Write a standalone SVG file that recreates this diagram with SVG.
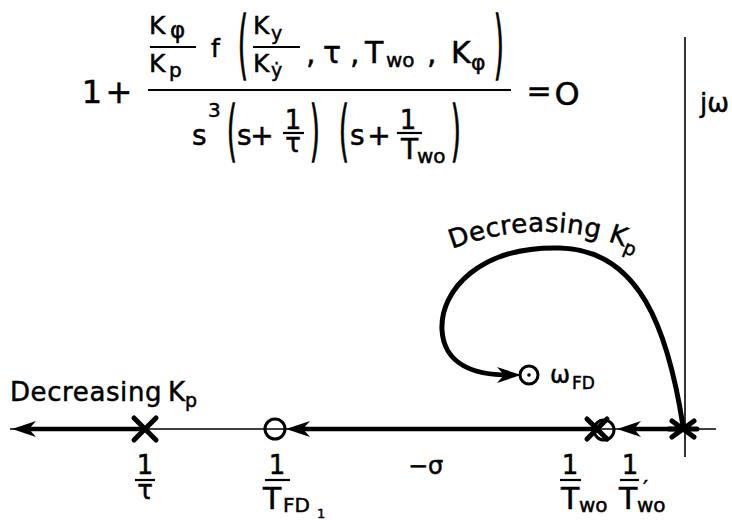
<svg xmlns="http://www.w3.org/2000/svg" width="732" height="520" viewBox="0 0 732 520">
<style>
text{font-family:"DejaVu Sans","Liberation Sans",sans-serif;fill:#000;stroke:#000;stroke-width:0.5}
.m{font-size:32px}
.n{font-size:30px}
.f{font-size:25px}
.d{font-size:28px}
.s{font-size:19px}
.lbl{font-size:26px}
.rule{stroke:#000;stroke-width:2.2;fill:none}
.thin{stroke:#000;stroke-width:1.6;fill:none}
.thick{stroke:#000;stroke-width:4.5;fill:none}
.locus{stroke:#000;stroke-width:5;fill:none;stroke-linecap:round}
.cross{stroke:#000;stroke-width:5;stroke-linecap:round;fill:none}
.zero{fill:none;stroke:#000;stroke-width:3}
</style>
<defs>
<marker id="ah" viewBox="-26 -10 28 20" refX="-12" refY="0" markerWidth="28" markerHeight="20" markerUnits="userSpaceOnUse" orient="auto-start-reverse"><path d="M0,0 L-24,-8 L-17,0 L-24,8 Z" fill="#000"/></marker>
<path id="arc" d="M452,249 Q555,210 650,258"/>
</defs>
<rect width="732" height="520" fill="#fff"/>

<g id="equation">
<text class="m" x="92" y="103" text-anchor="middle">1</text>
<text class="m" x="119" y="103" text-anchor="middle">+</text>
<text class="f" x="149" y="34">K</text><text font-size="23" x="170" y="38">φ</text>
<path class="rule" d="M150,47 H196"/>
<text class="f" x="149" y="72">K</text><text font-size="20" x="169" y="77">p</text>
<text class="f" x="211" y="57">f</text>
<text class="f" transform="translate(238,70) scale(1,3)">(</text>
<text class="f" x="253" y="34">K</text><text class="s" x="271" y="40">y</text>
<path class="rule" d="M253,47 H300"/>
<text class="f" x="253" y="72">K</text><text class="s" x="271" y="77">ẏ</text>
<text class="n" x="306" y="63">,</text>
<text class="n" x="323" y="63">τ</text>
<text class="n" x="350" y="63">,</text>
<text class="n" x="365" y="63">T</text><text font-size="20" x="386" y="67">wo</text>
<text class="n" x="427" y="63">,</text>
<text class="n" x="451" y="63">K</text><text font-size="22" x="471" y="70">φ</text>
<text class="f" transform="translate(494,70) scale(1,3)">)</text>
<path class="rule" d="M148,90 H511" stroke-width="2.5"/>
<text class="n" x="539" y="101" text-anchor="middle">=</text>
<text class="m" x="567" y="105" text-anchor="middle">O</text>
<text class="d" x="192" y="145">s</text>
<text font-size="20" x="208" y="117">3</text>
<text class="f" transform="translate(227,153.3) scale(1,2.65)">(</text>
<text class="d" x="237" y="145">s</text>
<text class="d" x="262" y="145" text-anchor="middle">+</text>
<text font-size="26" x="293" y="129" text-anchor="middle">1</text>
<path class="rule" d="M283,133 H304"/>
<text font-size="26" x="293" y="152" text-anchor="middle">τ</text>
<text class="f" transform="translate(310,153.3) scale(1,2.65)">)</text>
<text class="f" transform="translate(339,153.3) scale(1,2.65)">(</text>
<text class="d" x="350" y="145">s</text>
<text class="d" x="379" y="145" text-anchor="middle">+</text>
<text font-size="26" x="408" y="129" text-anchor="middle">1</text>
<path class="rule" d="M397,133 H422"/>
<text class="d" x="401" y="159">T</text><text font-size="20" x="417" y="163">wo</text>
<text class="f" transform="translate(451,153.3) scale(1,2.65)">)</text>
</g>

<g id="axes">
<line class="thin" x1="10" y1="429" x2="716" y2="429"/>
<line class="thin" x1="685" y1="37" x2="685" y2="457"/>
<text class="lbl" x="700" y="112">jω</text>
<text font-size="24" x="408" y="474">−σ</text>
</g>

<g id="connectors">
<path class="thick" d="M24,429 H145" marker-start="url(#ah)"/>
<path class="thick" d="M298,429 H597" marker-start="url(#ah)"/>
<path class="thick" d="M629,429 H683" marker-start="url(#ah)"/>
<path class="locus" d="M683,426 C668,330 640,250 560,248 C480,246 440,290 442,330 C444,365 475,375 509,375" marker-end="url(#ah)"/>
<text class="lbl" x="10" y="401" letter-spacing="0.6">Decreasing <tspan x="168" letter-spacing="0">K</tspan><tspan font-size="19" dy="6">p</tspan></text>
<text class="lbl" letter-spacing="0.4"><textPath href="#arc">Decreasing K<tspan font-size="19" dy="6">p</tspan></textPath></text>
</g>

<g id="pole-tau">
<path class="cross" d="M134,418 L156,440 M156,418 L134,440"/>
<text font-size="26" x="145" y="474" text-anchor="middle">1</text>
<path class="rule" d="M135,480 H155"/>
<text font-size="26" x="145" y="499" text-anchor="middle">τ</text>
</g>

<g id="zero-TFD1">
<circle class="zero" cx="275" cy="429" r="10"/>
<text font-size="26" x="277" y="474" text-anchor="middle">1</text>
<path class="rule" d="M265,480 H290"/>
<text font-size="30" x="263" y="509">T</text><text font-size="20" x="283" y="512">FD</text><text font-size="13" x="317" y="518">1</text>
</g>

<g id="pole-Two">
<path class="cross" d="M587,419 L607,439 M607,419 L587,439"/>
<text font-size="26" x="570" y="474" text-anchor="middle">1</text>
<path class="rule" d="M560,480 H581"/>
<text font-size="30" x="561" y="509">T</text><text font-size="20" x="579" y="512">wo</text>
</g>

<g id="zero-Two-prime">
<circle class="zero" cx="604" cy="430" r="10"/>
<text font-size="26" x="630" y="474" text-anchor="middle">1</text>
<path class="rule" d="M620,480 H639"/>
<text font-size="30" x="619" y="509">T</text><text font-size="22" x="643" y="496">′</text><text font-size="20" x="637" y="512">wo</text>
</g>

<g id="pole-origin">
<path class="cross" d="M669,429 H697 M672,421 L694,437 M672,437 L694,421"/>
</g>

<g id="zero-wFD">
<circle class="zero" cx="529" cy="375" r="9"/>
<circle cx="529" cy="375" r="1.8" fill="#000"/>
<text font-size="24" x="550" y="383">ω</text><text font-size="17" x="572" y="389">FD</text>
</g>
</svg>
